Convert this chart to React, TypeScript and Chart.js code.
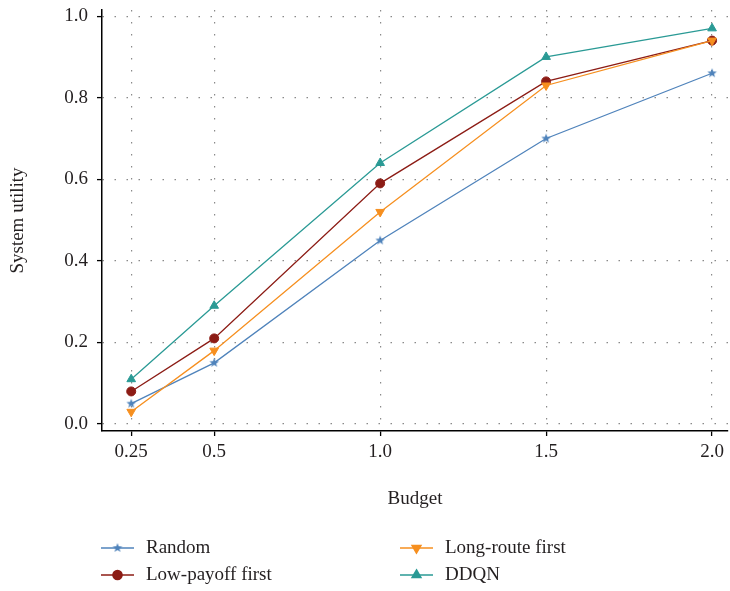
import React, { useEffect, useRef } from 'react';
import { Chart, registerables } from 'chart.js';
import { drawPoint } from 'chart.js/helpers';

Chart.register(...registerables);

const budgets = [0.25, 0.5, 1.0, 1.5, 2.0];
const xTickLabels = ['0.25', '0.5', '1.0', '1.5', '2.0'];
const yTickValues = [0, 0.2, 0.4, 0.6, 0.8, 1.0];
const seriesNames = ['Random', 'Low-payoff first', 'Long-route first', 'DDQN'];
const randomValues = [0.05, 0.15, 0.45, 0.70, 0.86];
const lowPayoffValues = [0.08, 0.21, 0.59, 0.84, 0.94];
const longRouteValues = [0.03, 0.18, 0.52, 0.83, 0.94];
const ddqnValues = [0.11, 0.29, 0.64, 0.90, 0.97];

const FONT = "'Liberation Serif', 'Times New Roman', serif";
const TEXT = '#231f20';
const COLORS = ['#4f83bb', '#8c1c15', '#f68f1f', '#2a9a95'];

function makeStar(color: string, outer: number, inner: number) {
  const size = Math.ceil(outer * 2 + 2);
  const c = document.createElement('canvas');
  c.width = size;
  c.height = size;
  const ctx = c.getContext('2d')!;
  const cx = size / 2, cy = size / 2;
  ctx.beginPath();
  for (let i = 0; i < 10; i++) {
    const r = i % 2 === 0 ? outer : inner;
    const a = -Math.PI / 2 + (i * Math.PI) / 5;
    const px = cx + r * Math.cos(a), py = cy + r * Math.sin(a);
    if (i === 0) ctx.moveTo(px, py); else ctx.lineTo(px, py);
  }
  ctx.closePath();
  ctx.fillStyle = color;
  ctx.fill();
  return c;
}

const zeroPad = (scale: any) => {
  scale.paddingLeft = 0;
  scale.paddingRight = 0;
  scale.paddingTop = 0;
  scale.paddingBottom = 0;
};

const legendPlugin = {
  id: 'twoColumnLegend',
  afterDraw(chart: any) {
    const ctx = chart.ctx as CanvasRenderingContext2D;
    const slots = [
      { ds: 0, x: 101, y: 548 },
      { ds: 2, x: 400, y: 548 },
      { ds: 1, x: 101, y: 575 },
      { ds: 3, x: 400, y: 575 },
    ];
    ctx.save();
    for (const s of slots) {
      const ds = chart.data.datasets[s.ds];
      ctx.strokeStyle = ds.borderColor;
      ctx.fillStyle = ds.pointBackgroundColor;
      ctx.lineWidth = 1.6;
      ctx.setLineDash([]);
      ctx.beginPath();
      ctx.moveTo(s.x, s.y);
      ctx.lineTo(s.x + 33, s.y);
      ctx.stroke();
      drawPoint(ctx, {
        pointStyle: ds.pointStyle,
        rotation: ds.pointRotation || 0,
        radius: ds.pointRadius,
        borderWidth: 1,
      } as any, s.x + 16.5, s.y);
      ctx.fillStyle = TEXT;
      ctx.font = `19px ${FONT}`;
      ctx.textAlign = 'left';
      ctx.textBaseline = 'middle';
      ctx.fillText(ds.label, s.x + 45, s.y);
    }
    ctx.restore();
  },
};

export default function App() {
  const ref = useRef<HTMLCanvasElement>(null);
  useEffect(() => {
    const star = makeStar(COLORS[0], 5, 2.1);
    const seriesValues = [randomValues, lowPayoffValues, longRouteValues, ddqnValues];
    const styles: any[] = [star, 'circle', 'triangle', 'triangle'];
    const rotations = [0, 0, 180, 0];
    const radii = [4.5, 4.5, 5, 5];
    const orders = [4, 3, 2, 1];
    const datasets = seriesNames.map((name, i) => ({
      label: name,
      data: budgets.map((b, j) => ({ x: b, y: seriesValues[i][j] })),
      borderColor: COLORS[i],
      backgroundColor: COLORS[i],
      pointBackgroundColor: COLORS[i],
      pointBorderColor: COLORS[i],
      pointStyle: styles[i],
      pointRotation: rotations[i],
      pointRadius: radii[i],
      pointBorderWidth: 1,
      borderWidth: 1.3,
      order: orders[i],
      tension: 0,
      clip: false,
    }));
    const chart = new Chart(ref.current!, {
      type: 'line',
      data: { datasets },
      plugins: [legendPlugin],
      options: {
        animation: false,
        responsive: false,
        devicePixelRatio: 1,
        layout: { autoPadding: false, padding: { left: 0, top: 10, right: 2, bottom: 80.6 } },
        plugins: { legend: { display: false }, tooltip: { enabled: false } },
        scales: {
          x: {
            type: 'linear',
            min: 0.162,
            max: 2.048,
            afterBuildTicks: (scale: any) => {
              scale.ticks = budgets.map((v) => ({ value: v }));
            },
            afterFit: (scale: any) => {
              scale.height = 79.4;
              zeroPad(scale);
            },
            ticks: {
              autoSkip: false,
              maxRotation: 0,
              padding: 5,
              color: TEXT,
              font: { family: FONT, size: 19 },
              callback: (v: any) => {
                const idx = budgets.indexOf(Number(v));
                return idx >= 0 ? xTickLabels[idx] : '';
              },
            },
            grid: {
              color: '#8a8a8a',
              lineWidth: 1.2,
              tickLength: 5,
              tickColor: '#000',
              tickWidth: 1.3,
              tickBorderDash: [],
            },
            border: { display: true, color: '#000', width: 1.5, dash: [1.5, 10.5] },
            title: {
              display: true,
              text: 'Budget',
              color: TEXT,
              font: { family: FONT, size: 19 },
              padding: { top: 0, bottom: 0 },
            },
          },
          y: {
            type: 'linear',
            min: -0.017,
            max: 1.015,
            afterBuildTicks: (scale: any) => {
              scale.ticks = yTickValues.map((v) => ({ value: v }));
            },
            afterFit: (scale: any) => {
              scale.width = 102;
              zeroPad(scale);
            },
            ticks: {
              padding: 9,
              color: TEXT,
              font: { family: FONT, size: 19 },
              callback: (v: any) => Number(v).toFixed(1),
            },
            grid: {
              color: '#8a8a8a',
              lineWidth: 1.2,
              tickLength: 5,
              tickColor: '#000',
              tickWidth: 1.3,
              tickBorderDash: [],
            },
            border: { display: true, color: '#000', width: 1.5, dash: [1.5, 10.5] },
            title: {
              display: true,
              text: 'System utility',
              color: TEXT,
              font: { family: FONT, size: 19 },
              padding: { top: 7, bottom: 0 },
            },
          },
        },
      } as any,
    });
    return () => chart.destroy();
  }, []);
  return (
    <div style={{ position: 'absolute', left: 0, top: 0, width: 730, height: 591, background: '#fff' }}>
      <canvas ref={ref} width={730} height={591} style={{ display: 'block' }} />
    </div>
  );
}
